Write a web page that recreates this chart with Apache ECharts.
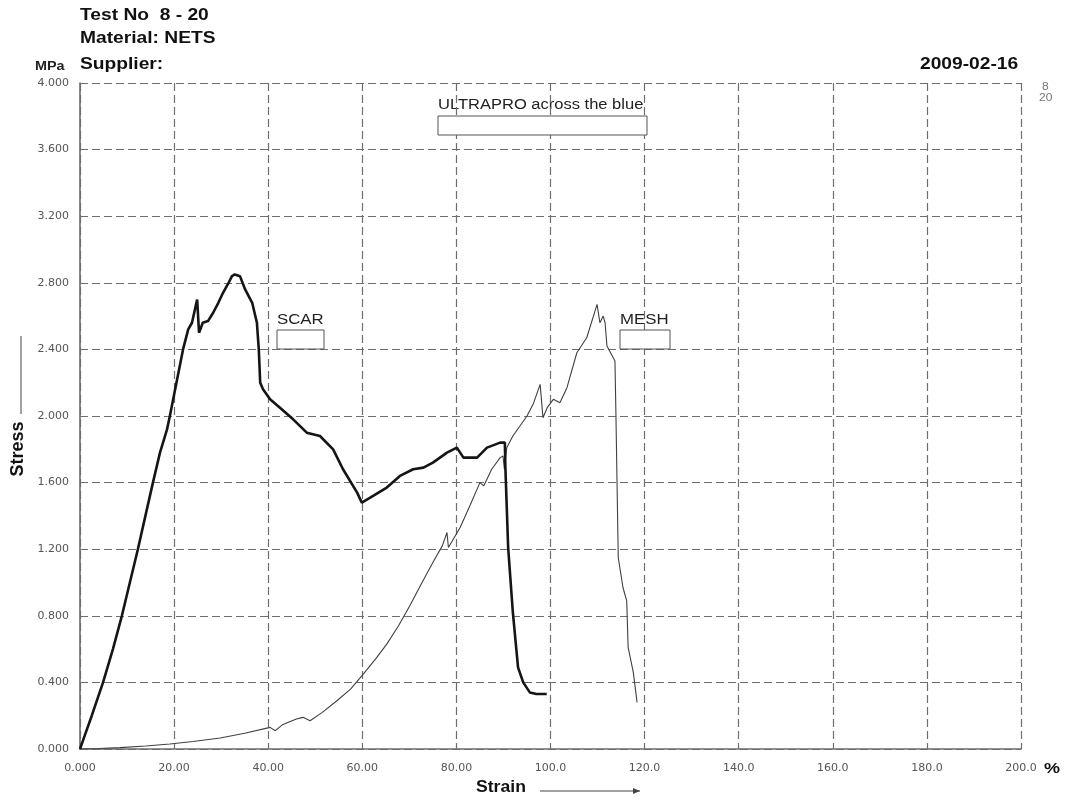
<!DOCTYPE html>
<html>
<head>
<meta charset="utf-8">
<script src="https://cdn.jsdelivr.net/npm/echarts@6/dist/echarts.min.js"></script>
<style>
html,body{margin:0;padding:0;background:#fff;}
#chart{width:1067px;height:802px;}
</style>
</head>
<body>
<div id="chart"></div>
<script>
// ---- data ----
const xTickLabels = ['0.000','20.00','40.00','60.00','80.00','100.0','120.0','140.0','160.0','180.0','200.0'];
const yTickLabels = ['0.000','0.400','0.800','1.200','1.600','2.000','2.400','2.800','3.200','3.600','4.000'];

const scarStrain = [0,1,2.5,4.9,7,8.9,10.6,12.3,13.9,15.5,17,18.5,19.1,20.5,21.9,23.0,23.8,24.9,25.3,26.1,27.2,28.3,29.4,30.4,31.4,32.3,32.9,34.0,35.1,36.6,37.6,38.0,38.3,38.9,40.4,42.5,45.3,48.2,51.0,53.8,55.9,58.9,59.9,62.3,65.2,68.0,70.8,73.0,75.0,78.0,80.1,81.5,84.4,86.5,89.3,90.3,90.4,91.0,92.0,93.1,94.2,95.6,97.0,99.2];
const scarStress = [0,0.08,0.2,0.4,0.6,0.8,1.0,1.2,1.4,1.6,1.78,1.92,2.0,2.2,2.4,2.52,2.56,2.70,2.50,2.56,2.57,2.62,2.68,2.74,2.79,2.84,2.85,2.84,2.76,2.68,2.56,2.40,2.20,2.16,2.10,2.05,1.98,1.90,1.88,1.80,1.68,1.54,1.48,1.52,1.57,1.64,1.68,1.69,1.72,1.78,1.81,1.75,1.75,1.81,1.84,1.84,1.70,1.21,0.82,0.49,0.40,0.34,0.33,0.33];

const meshStrain = [0,4,8.5,14,19.1,24,29.8,35,40.4,41.5,43,46,47.4,48.9,51.5,54.6,57.5,60.2,62.8,65.2,67.7,70.1,72.5,75.0,77.0,78.0,78.3,80.8,83.0,85.0,85.8,87.5,89.3,89.9,90.2,90.7,92.0,93.5,95.0,96.3,97.8,98.4,99.3,100.6,102.0,103.5,105.6,107.7,109.9,110.5,111.2,111.6,112.0,113.7,113.9,114.4,115.4,116.2,116.5,117.6,118.4];
const meshStress = [0,0.003,0.008,0.018,0.03,0.045,0.066,0.095,0.13,0.11,0.145,0.18,0.19,0.17,0.22,0.29,0.36,0.45,0.54,0.63,0.74,0.86,0.99,1.12,1.22,1.30,1.21,1.33,1.47,1.60,1.58,1.68,1.75,1.76,1.68,1.81,1.88,1.94,2.0,2.07,2.19,1.99,2.05,2.10,2.08,2.17,2.38,2.47,2.67,2.56,2.60,2.56,2.42,2.33,2.02,1.15,0.97,0.89,0.61,0.46,0.28];

const seriesNames = ['ULTRAPRO across the blue','SCAR','MESH'];

// ---- chart ----
const chart = echarts.init(document.getElementById('chart'), null, {renderer:'canvas'});
const zip = (xs, ys) => xs.map((x, i) => [x, ys[i]]);
const FONT = '"Liberation Sans", Arial, sans-serif';
const LABEL_FONT = '"DejaVu Sans", sans-serif';
const gridLine = {show:true, lineStyle:{color:'#6e6e6e', width:1.2, type:[8,4]}};
const SX = 1.2; // horizontal stretch of the reference lettering

function txt(x, y, s, font, fill, sx) {
  return {type:'text', x:x, y:y, scaleX:sx || SX, style:{text:s, font:font, fill:fill || '#111'}};
}

const option = {
  animation:false,
  backgroundColor:'#ffffff',
  grid:{left:80, top:83, width:941, height:666, containLabel:false},
  xAxis:{
    type:'value', min:0, max:200, interval:20,
    axisLine:{show:true, lineStyle:{color:'#6e6e6e', width:1.6}},
    axisTick:{show:false},
    splitLine:gridLine,
    axisLabel:{
      color:'#555', fontSize:11, fontFamily:LABEL_FONT, margin:14,
      formatter:v => xTickLabels[Math.round(v/20)]
    }
  },
  yAxis:{
    type:'value', min:0, max:4, interval:0.4,
    axisLine:{show:true, lineStyle:{color:'#6e6e6e', width:1.6}},
    axisTick:{show:false},
    splitLine:gridLine,
    axisLabel:{
      color:'#555', fontSize:11, fontFamily:LABEL_FONT, margin:11,
      formatter:v => yTickLabels[Math.round(v/0.4)]
    }
  },
  series:[
    {
      name:seriesNames[1], type:'line', data:zip(scarStrain, scarStress),
      showSymbol:false, lineStyle:{color:'#151515', width:2.6}, z:3
    },
    {
      name:seriesNames[2], type:'line', data:zip(meshStrain, meshStress),
      showSymbol:false, lineStyle:{color:'#404040', width:1.1}, z:2
    }
  ],
  graphic:[
    txt(80, 8, 'Test No  8 - 20', 'bold 16px '+FONT),
    txt(80, 31, 'Material: NETS', 'bold 16px '+FONT),
    txt(80, 57, 'Supplier:', 'bold 16px '+FONT),
    txt(35, 61, 'MPa', 'bold 12px '+FONT, '#222'),
    txt(920, 57, '2009-02-16', 'bold 16px '+FONT),
    txt(1042, 82, '8', '10px '+FONT, '#777'),
    txt(1039, 93, '20', '10px '+FONT, '#777'),
    txt(1044, 761, '%', 'bold 15px '+FONT),
    txt(476, 780, 'Strain', 'bold 16px '+FONT, '#111', 1.1),
    {type:'line', shape:{x1:540, y1:791, x2:640, y2:791}, style:{stroke:'#444', lineWidth:1}},
    {type:'polygon', shape:{points:[[640,791],[633,788],[633,794]]}, style:{fill:'#444'}},
    {type:'text', x:18, y:449, rotation:Math.PI/2, style:{text:'Stress', font:'bold 18px '+FONT, fill:'#111', align:'center', verticalAlign:'middle'}},
    {type:'line', shape:{x1:21, y1:336, x2:21, y2:414}, style:{stroke:'#444', lineWidth:1}},
    // annotation boxes (series labels)
    txt(438, 98, seriesNames[0], '14px '+FONT, '#222', 1.18),
    {type:'rect', shape:{x:438, y:116, width:209, height:19}, style:{fill:'#fff', stroke:'#555', lineWidth:1}, z:10},
    txt(277, 313, seriesNames[1], '14px '+FONT, '#222'),
    {type:'rect', shape:{x:277, y:330, width:47, height:19}, style:{fill:'#fff', stroke:'#555', lineWidth:1}, z:10},
    txt(620, 313, seriesNames[2], '14px '+FONT, '#222'),
    {type:'rect', shape:{x:620, y:330, width:50, height:19}, style:{fill:'#fff', stroke:'#555', lineWidth:1}, z:10}
  ]
};
chart.setOption(option);
</script>
</body>
</html>
